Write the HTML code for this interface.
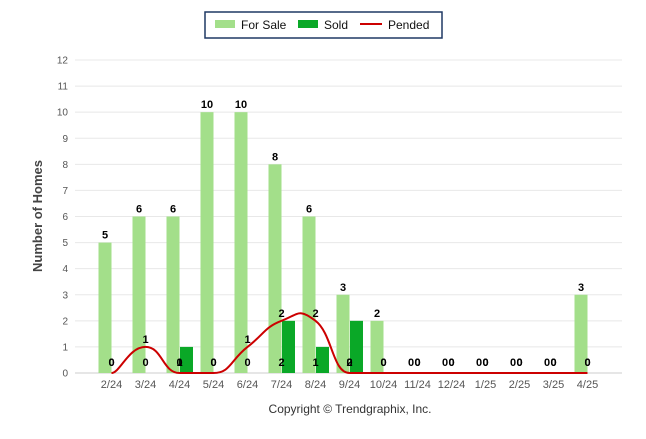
<!DOCTYPE html>
<html><head><meta charset="utf-8"><style>
body{margin:0;background:#fff;font-family:"Liberation Sans",sans-serif}
svg text{font-family:"Liberation Sans",sans-serif}
</style></head><body>
<svg id="c" width="646" height="434">
<g>
<rect x="205" y="12" width="237" height="26" fill="#fff" stroke="#1f3864" stroke-width="1.5"/>
<rect x="215" y="20" width="20" height="8" fill="#a3df8a"/>
<text x="241" y="29" font-size="12" fill="#111">For Sale</text>
<rect x="298" y="20" width="20" height="8" fill="#0aa827"/>
<text x="324" y="29" font-size="12" fill="#111">Sold</text>
<line x1="360" y1="24" x2="382" y2="24" stroke="#cc0000" stroke-width="2"/>
<text x="388" y="29" font-size="12" fill="#111">Pended</text>
</g>
<text transform="translate(42,216) rotate(-90)" text-anchor="middle" font-size="13" font-weight="bold" fill="#444">Number of Homes</text>
<text x="350" y="413" text-anchor="middle" font-size="12" fill="#333">Copyright © Trendgraphix, Inc.</text>
<g id="grid"></g><g id="bars"></g><g id="lines"></g><g id="labels"></g>
</svg>
<script>
const categories=["2/24","3/24","4/24","5/24","6/24","7/24","8/24","9/24","10/24","11/24","12/24","1/25","2/25","3/25","4/25"];
const forSale=[5,6,6,10,10,8,6,3,2,0,0,0,0,0,3];
const sold=[0,0,1,0,0,2,1,2,0,0,0,0,0,0,0];
const pended=[0,1,0,0,1,2,2,0,0,0,0,0,0,0,0];
const yTicks=[0,1,2,3,4,5,6,7,8,9,10,11,12];
const NS="http://www.w3.org/2000/svg";
const y0=373,yTop=60,yMax=12;
const yS=v=>y0-v*(y0-yTop)/yMax;
const xC=i=>111.5+i*34;
const bw=13;
function mk(t,a,p){const e=document.createElementNS(NS,t);for(const k in a)e.setAttribute(k,a[k]);document.getElementById(p).appendChild(e);return e;}
yTicks.forEach(v=>{
 const l=mk('line',{x1:75,x2:622,y1:yS(v),y2:yS(v),stroke:v===0?'#ccc':'#e8e8e8','stroke-width':1},'grid');
 
 
 const t=mk('text',{x:68,y:yS(v)+3.5,'text-anchor':'end','font-size':10,fill:'#555'},'grid');t.textContent=v;
 
 
});
categories.forEach((c,i)=>{
 const t=mk('text',{x:xC(i),y:388,'text-anchor':'middle','font-size':11,fill:'#555'},'grid');t.textContent=c;
 
 
 const b=mk('rect',{x:xC(i)-bw,y:yS(forSale[i]),width:bw,height:y0-yS(forSale[i]),fill:'#a3df8a'},'bars');
 
 
 const s=mk('rect',{x:xC(i)+0.5,y:yS(sold[i]),width:bw,height:y0-yS(sold[i]),fill:'#0aa827'},'bars');
 
 
 const l1=mk('text',{x:xC(i)-bw/2,y:forSale[i]>0?yS(forSale[i])-4:366,'text-anchor':'middle','font-size':11,'font-weight':'bold',fill:'#000'},'labels');l1.textContent=forSale[i];
 
 
 const l2=mk('text',{x:xC(i)+(i===2?0:0),y:366,'text-anchor':'middle','font-size':11,'font-weight':'bold',fill:'#000'},'labels');l2.textContent=sold[i];
 
 
 const l3=mk('text',{x:xC(i),y:pended[i]>0?yS(pended[i])-4:366,'text-anchor':'middle','font-size':11,'font-weight':'bold',fill:'#000'},'labels');l3.textContent=pended[i];
 
 
});
const pts=pended.map((v,i)=>[xC(i),yS(v)]);
let d='M'+pts[0][0]+','+pts[0][1];
for(let i=0;i<pts.length-1;i++){
 const p0=pts[Math.max(0,i-1)],p1=pts[i],p2=pts[i+1],p3=pts[Math.min(pts.length-1,i+2)];
 const k=1/4;
 let c1y=p1[1]+(p2[1]-p0[1])*k,c2y=p2[1]-(p3[1]-p1[1])*k;
 if(p1[1]===y0&&(p0[1]===y0||i===0))c1y=p1[1];
 if(p2[1]===y0&&p3[1]===y0)c2y=p2[1];
 c1y=Math.min(c1y,y0);c2y=Math.min(c2y,y0);
 d+=` C${p1[0]+(p2[0]-p0[0])*k},${c1y} ${p2[0]-(p3[0]-p1[0])*k},${c2y} ${p2[0]},${p2[1]}`;
}
const pl=mk('path',{d:d,fill:'none',stroke:'#cc0000','stroke-width':2},'lines');


</script>
</body></html>
